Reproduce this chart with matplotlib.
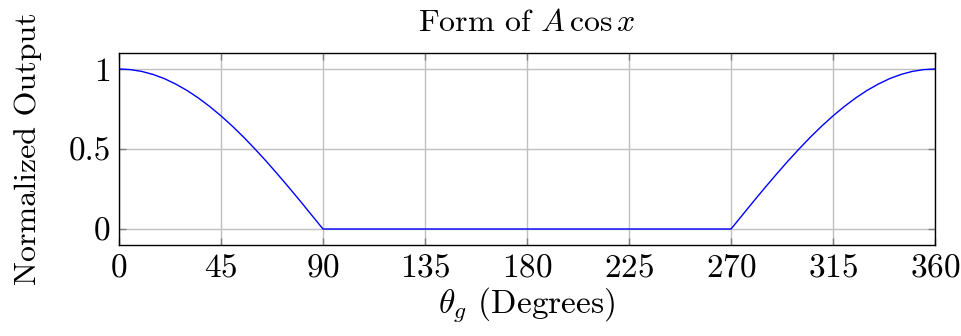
import matplotlib
matplotlib.use("Agg")
import matplotlib.pyplot as plt

# values (degrees, normalized output)
theta_deg = [0, 5, 10, 15, 20, 25, 30, 35, 40, 45, 50, 55, 60, 65, 70, 75, 80, 85, 90,
             270, 275, 280, 285, 290, 295, 300, 305, 310, 315, 320, 325, 330, 335, 340,
             345, 350, 355, 360]
output = [1.0, 0.996, 0.985, 0.966, 0.94, 0.906, 0.866, 0.819, 0.766, 0.707, 0.643,
          0.574, 0.5, 0.423, 0.342, 0.259, 0.174, 0.087, 0.0,
          0.0, 0.087, 0.174, 0.259, 0.342, 0.423, 0.5, 0.574, 0.643, 0.707, 0.766,
          0.819, 0.866, 0.906, 0.94, 0.966, 0.985, 0.996, 1.0]

xticks = [0, 45, 90, 135, 180, 225, 270, 315, 360]
yticks = [0, 0.5, 1]
ytick_labels = ["0", "0.5", "1"]

plt.rcParams['font.family'] = ['cmr10', 'DejaVu Serif']
plt.rcParams['mathtext.fontset'] = 'cm'
plt.rcParams['axes.formatter.use_mathtext'] = True

fig = plt.figure(figsize=(9.61, 3.36), dpi=100)
ax = fig.add_axes([0.1238, 0.2708, 0.8492, 0.5715])

ax.plot(theta_deg, output, color='blue', linewidth=1.0)

ax.set_xlim(0, 360)
ax.set_ylim(-0.1, 1.1)
ax.set_xticks(xticks)
ax.set_yticks(yticks)
ax.set_yticklabels(ytick_labels)
ax.grid(True, color='#c0c0c0', linewidth=1.0)
ax.set_axisbelow(True)
ax.tick_params(direction='in', length=5, width=1, color='#808080',
               top=True, right=True, labelsize=24, pad=6)
for s in ax.spines.values():
    s.set_linewidth(1.0)

ax.set_title(r"Form of $A\,\cos x$", fontsize=23, pad=16)
ax.set_xlabel(r"$\theta_g$ (Degrees)", fontsize=24, labelpad=2)
ax.set_ylabel("Normalized Output", fontsize=23, labelpad=19)

fig.savefig("out.png", dpi=100)
